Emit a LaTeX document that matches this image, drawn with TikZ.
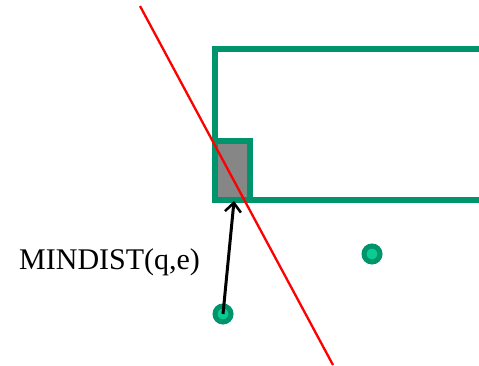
\documentclass[tikz,border=0pt]{standalone}
\usepackage{fontspec}
\setmainfont{Liberation Serif}
\usetikzlibrary{arrows.meta}
\definecolor{gdark}{RGB}{0,148,108}
\definecolor{glight}{RGB}{10,204,144}
\tikzset{
  boxline/.style={draw=gdark, line width=5.5pt},
  pt/.style={circle, draw=gdark, fill=glight, line width=5pt, minimum size=16pt, inner sep=0pt},
  dist/.style={draw=black, line width=3pt, -{Straight Barb[length=9pt,width=16pt,line width=2.5pt]}},
}
\begin{document}
\begin{tikzpicture}[x=1pt,y=-1pt]
\useasboundingbox (0,0) rectangle (479,366);
\clip (0,0) rectangle (479,366);
\draw[boxline] (215,49) rectangle (495,200);
\draw[boxline, fill=gray!95!white] (215,141) rectangle (250,200);
\draw[red, line width=2.3pt] (140,6) -- (333,365);
\node[pt] (q) at (223,314) {};
\node[pt] (p) at (372,254) {};
\coordinate (e) at (234,201);
\draw[dist] (q.center) -- (e);
\node[anchor=base west, font=\fontsize{30}{34}\selectfont, inner sep=0pt] (lab) at (19,269) {MINDIST(q,e)};
\end{tikzpicture}
\end{document}
